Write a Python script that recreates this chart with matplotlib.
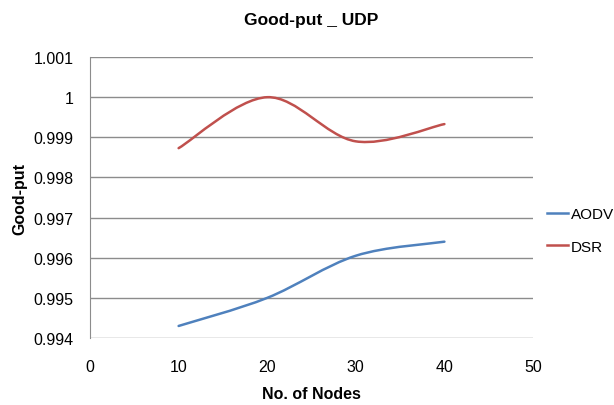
import matplotlib
matplotlib.use("Agg")
import matplotlib.pyplot as plt
from matplotlib.path import Path
from matplotlib.patches import PathPatch
from matplotlib.lines import Line2D

plt.rcParams["font.family"] = ["Liberation Sans Narrow", "Liberation Sans", "DejaVu Sans"]

nodes = [10, 20, 30, 40]
aodv = [0.9943, 0.9950, 0.99605, 0.9964]
dsr = [0.99873, 1.0000, 0.9989, 0.99933]
x_ticks = [0, 10, 20, 30, 40, 50]
y_ticks = [0.994, 0.995, 0.996, 0.997, 0.998, 0.999, 1.0, 1.001]
y_labels = ["0.994", "0.995", "0.996", "0.997", "0.998", "0.999", "1", "1.001"]


def smooth_path(xs, ys):
    # Excel-style smoothed line: cubic bezier with 1/6 neighbour tangents
    verts = [(xs[0], ys[0])]
    codes = [Path.MOVETO]
    n = len(xs)
    for i in range(n - 1):
        x0, y0 = xs[max(i - 1, 0)], ys[max(i - 1, 0)]
        x1, y1 = xs[i], ys[i]
        x2, y2 = xs[i + 1], ys[i + 1]
        x3, y3 = xs[min(i + 2, n - 1)], ys[min(i + 2, n - 1)]
        c1 = (x1 + (x2 - x0) / 6, y1 + (y2 - y0) / 6)
        c2 = (x2 - (x3 - x1) / 6, y2 - (y3 - y1) / 6)
        verts += [c1, c2, (x2, y2)]
        codes += [Path.CURVE4] * 3
    return Path(verts, codes)


fig = plt.figure(figsize=(6.14, 4.06), dpi=100)
ax = fig.add_axes([0.1466, 0.165, 0.7215, 0.692])

series = [("AODV", aodv, "#4F81BD"), ("DSR", dsr, "#C0504D")]
for name, vals, color in series:
    ax.add_patch(PathPatch(smooth_path(nodes, vals), facecolor="none",
                           edgecolor=color, lw=1.8, capstyle="round"))

ax.set_xlim(0, 50)
ax.set_ylim(0.994, 1.001)
ax.set_xticks(x_ticks)
ax.set_yticks(y_ticks)
ax.set_yticklabels(y_labels)
ax.yaxis.grid(True, color="#8c8c8c", lw=1)
ax.set_axisbelow(True)
for s in ["top", "right", "bottom"]:
    ax.spines[s].set_visible(False)
ax.spines["left"].set_color("#8c8c8c")
ax.tick_params(length=0, labelsize=11.5)
ax.tick_params(axis="y", pad=12)
ax.tick_params(axis="x", pad=15)

ax.set_title("Good-put _ UDP", fontsize=12.5, fontweight="bold", pad=24)
ax.set_xlabel("No. of Nodes", fontsize=11.5, fontweight="bold", labelpad=9)
ax.set_ylabel("Good-put", fontsize=11.5, fontweight="bold", labelpad=4)

handles = [Line2D([], [], color=c, lw=1.8) for _, _, c in series]
fig.legend(handles, [n for n, _, _ in series], loc="center left",
           bbox_to_anchor=(0.891, 0.43), frameon=False, fontsize=11,
           borderpad=0, borderaxespad=0,
           handlelength=1.4, handletextpad=0.15, labelspacing=1.2)

fig.savefig("out.png", dpi=100)
